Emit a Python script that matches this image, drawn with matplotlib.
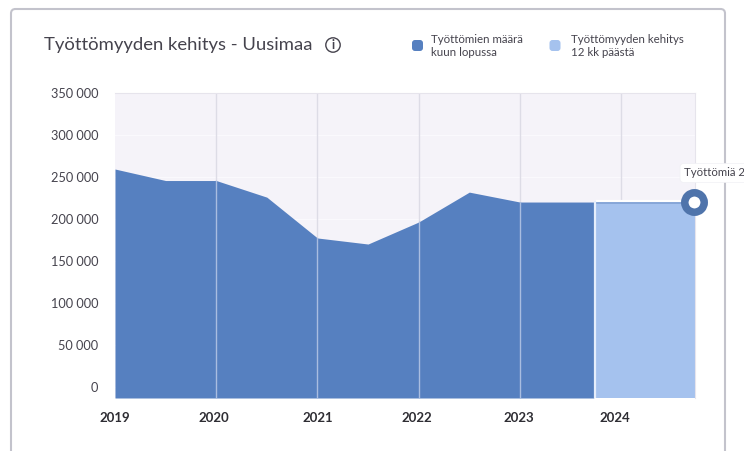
import matplotlib
matplotlib.use("Agg")
import matplotlib.pyplot as plt
from matplotlib.patches import FancyBboxPatch, Circle
from matplotlib.transforms import ScaledTranslation

plt.rcParams['font.family'] = ['Lato', 'DejaVu Sans']

# Data
title = "Työttömyyden kehitys - Uusimaa"
series_names = ["Työttömien määrä\nkuun lopussa", "Työttömyyden kehitys\n12 kk päästä"]
tooltip = "Työttömiä 2"
hist_x = [2019.0, 2019.5, 2020.0, 2020.5, 2021.0, 2021.5, 2022.0, 2022.5, 2023.0, 2023.73]
hist_y = [259500, 245800, 245800, 226000, 177400, 170200, 196400, 232000, 220200, 220200]
fore_x = [2023.75, 2024.73]
fore_y = [218500, 218500]
year_ticks = [2019, 2020, 2021, 2022, 2023, 2024]
value_ticks = [0, 50000, 100000, 150000, 200000, 250000, 300000, 350000]

DARK, LIGHT, BG, TXT = "#5680c0", "#a5c2ee", "#f5f3f9", "#45434d"
W, H = 744, 451
fig = plt.figure(figsize=(W / 100, H / 100), dpi=100, facecolor="white")

# card
fig.add_artist(FancyBboxPatch((11 / W, -0.1), 714 / W, 1.1 - 9 / H,
                              boxstyle="round,pad=0,rounding_size=0.006",
                              transform=fig.transFigure, fc="white", ec="#c3c3cc", lw=1.5,
                              mutation_aspect=W / H, zorder=-5))

L, R, T, B = 115, 695, 93, 398
ax = fig.add_axes([L / W, 1 - B / H, (R - L) / W, (B - T) / H], zorder=1)
ax.set_facecolor(BG)
ax.set_xlim(2019, 2024.73)
ppv = 294 / 350000
ymin = -(B - T - 294) / ppv
ax.set_ylim(ymin, 350000)

hist_fill = ax.fill_between(hist_x, ymin, hist_y, color=DARK, lw=0, zorder=2)
ax.fill_between(fore_x, ymin, fore_y, color=LIGHT, lw=0, zorder=2)
ax.plot(fore_x, [v + 2800 for v in fore_y], color="white", lw=1.6, zorder=2.2, solid_capstyle="butt")
ax.plot(fore_x, fore_y, color="#86a6d8", lw=1.4, zorder=3, solid_capstyle="butt")
ax.vlines(fore_x[0] - 0.01, ymin, fore_y[0] + 3500, color="#e6eefb", lw=1.6, zorder=3)

ax.set_yticks(value_ticks)
ax.set_yticklabels([f"{v:,}".replace(",", " ") for v in value_ticks])
ax.set_xticks(year_ticks)
ax.set_xticklabels([str(y) for y in year_ticks])
ax.grid(axis="y", color="#faf9fd", lw=0.8)
ax.set_axisbelow(True)
for y in year_ticks[1:]:
    ax.axvline(y, color="#dddce6", lw=1.0, zorder=1)
for y in year_ticks[1:5]:
    line = ax.axvline(y, color="#a9bde0", lw=1.0, zorder=2.5)
    line.set_clip_path(hist_fill.get_paths()[0], ax.transData)
ax.tick_params(length=0)
ax.tick_params(axis="y", labelsize=9.2, labelcolor=TXT, pad=12)
ax.tick_params(axis="x", labelsize=9.5, labelcolor="#2e2d33", pad=10)
for lab, dx in zip(ax.get_xticklabels(), [0, -2, 0, -2, -1, -6]):
    lab.set_fontweight("bold")
    lab.set_transform(lab.get_transform() + ScaledTranslation(dx / 100, 0, fig.dpi_scale_trans))
for s in ax.spines.values():
    s.set_visible(False)
for s in ("top", "right"):
    ax.spines[s].set_visible(True)
    ax.spines[s].set_color("#e6e4ec")
    ax.spines[s].set_linewidth(0.8)

# end marker and tooltip
ax.plot(fore_x[-1] - 0.012, hist_y[-1], "o", ms=14, mfc="white", mec="#4f74ab", mew=5.4, clip_on=False, zorder=6)
fig.text(684 / W, 1 - 173 / H, tooltip, fontsize=8.2, color=TXT, va="center", ha="left", zorder=7,
         bbox=dict(boxstyle="round,pad=0.35", fc="white", ec="#f0f0f4", lw=0.5))

# title and info icon
fig.text(44 / W, 1 - 45 / H, title, fontsize=13.3, color=TXT, va="center", ha="left", zorder=3)
fig.add_artist(Circle((333, H - 45), 7.2, transform=None, fc="white", ec=TXT, lw=1, zorder=3))
fig.text(333 / W, 1 - 45 / H, "i", fontsize=9, fontweight="bold", color=TXT, va="center", ha="center", zorder=4)

# legend
for px, tx, col, name in [(417.5, 431, DARK, series_names[0]), (555, 571, LIGHT, series_names[1])]:
    fig.add_artist(FancyBboxPatch((px - 5.5, H - 51), 11, 11, boxstyle="round,pad=0,rounding_size=3",
                                  transform=None, fc=col, ec="none", zorder=3))
    fig.text(tx / W, 1 - 46 / H, name, fontsize=8.3, color=TXT, va="center", ha="left", linespacing=1.2, zorder=3)

fig.savefig("out.png", dpi=100)
